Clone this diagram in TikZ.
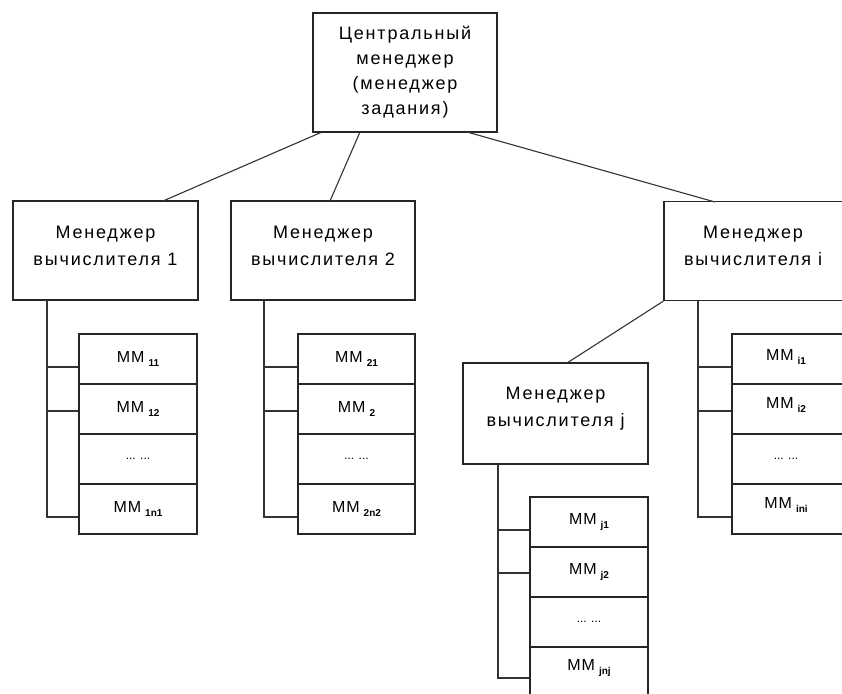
\documentclass[tikz,border=0pt]{standalone}
\usepackage{fontspec}
\setmainfont{Liberation Sans}
\newfontfamily\spacedfont[LetterSpace=10]{Liberation Sans}
\begin{document}
\begin{tikzpicture}[x=1pt,y=-1pt,
  box/.style={draw=black!85, line width=1.2pt, minimum width=185pt, minimum height=99pt, inner sep=0pt},
  mmbox/.style={draw=black!85, line width=1.2pt, minimum width=118pt, minimum height=50pt, inner sep=0pt, font=\fontsize{16}{18}\selectfont},
  conn/.style={draw=black!80, line width=1.1pt},
  lbl/.style={font=\spacedfont\fontsize{18}{25}\selectfont, align=center, inner sep=0pt}
]
\newcommand{\mmsub}[1]{M\kern1pt M\kern4pt\raisebox{-4pt}{\fontsize{10}{10}\selectfont\bfseries #1}}
\useasboundingbox (0,0) rectangle (842,693);
\clip (0,0) rectangle (842,693);
\fill[white] (0,0) rectangle (842,693);

% central
\node[box, minimum width=184pt, minimum height=119pt] (c) at (405,72.5) {};
\node[lbl] (ct) at (405,72) {Центральный\\менеджер\\(менеджер\\задания)};

% managers
\node[box] (m1) at (105.5,250.5) {};
\node[lbl, font=\spacedfont\fontsize{18}{27}\selectfont] (m1t) at (m1.center) [yshift=5pt] {Менеджер\\вычислителя 1};
\node[box, minimum width=184pt] (m2) at (323,250.5) {};
\node[lbl, font=\spacedfont\fontsize{18}{27}\selectfont] (m2t) at (m2.center) [yshift=5pt] {Менеджер\\вычислителя 2};
\node[box, minimum width=190pt] (mi) at (759,251) {};
\node[lbl, font=\spacedfont\fontsize{18}{27}\selectfont] (mit) at (753,245.5) {Менеджер\\вычислителя i};
\node[box, minimum height=101pt] (mj) at (555.5,413.5) {};
\node[lbl, font=\spacedfont\fontsize{18}{27}\selectfont] (mjt) at (mj.center) [yshift=5pt] {Менеджер\\вычислителя j};

% connectors from central
\coordinate (c1) at (322,132);
\coordinate (c2) at (360,132);
\coordinate (c3) at (467,132);
\draw[conn] (c1) -- (163,201);
\draw[conn] (c2) -- (330,201);
\draw[conn] (c3) -- (715,202);
\draw[conn] (mi.south west) -- (567,363);

% group 1
\node[mmbox] (a1) at (138,359) {\mmsub{11}};
\node[mmbox] (a2) at (138,409) {\mmsub{12}};
\node[mmbox] (a3) at (138,459) {\fontsize{12}{12}\selectfont ... ...};
\node[mmbox] (a4) at (138,509) {\mmsub{1n1}};
\draw[conn] (47,300) -- (47,517) -- (a4.west |- 0,517);
\draw[conn] (47,367) -- (a1.west |- 0,367);
\draw[conn] (47,411) -- (a2.west |- 0,411);

% group 2
\node[mmbox, minimum width=117pt] (b1) at (356.5,359) {\mmsub{21}};
\node[mmbox, minimum width=117pt] (b2) at (356.5,409) {\mmsub{2}};
\node[mmbox, minimum width=117pt] (b3) at (356.5,459) {\fontsize{12}{12}\selectfont ... ...};
\node[mmbox, minimum width=117pt] (b4) at (356.5,509) {\mmsub{2n2}};
\draw[conn] (264,300) -- (264,517) -- (b4.west |- 0,517);
\draw[conn] (264,367) -- (b1.west |- 0,367);
\draw[conn] (264,411) -- (b2.west |- 0,411);

% group i
\node[mmbox] (i1) at (791,359) {};
\node[mmbox] (i2) at (791,409) {};
\node[mmbox] (i3) at (791,459) {};
\node[mmbox] (i4) at (791,509) {};
\node[font=\fontsize{16}{18}\selectfont, inner sep=0pt] (i1t) at (786,357) {\mmsub{i1}};
\node[font=\fontsize{16}{18}\selectfont, inner sep=0pt] (i2t) at (786,405) {\mmsub{i2}};
\node[inner sep=0pt] (i3t) at (786,459) {\fontsize{12}{12}\selectfont ... ...};
\node[font=\fontsize{16}{18}\selectfont, inner sep=0pt] (i4t) at (786,505) {\mmsub{ini}};
\draw[conn] (698,300) -- (698,517) -- (i4.west |- 0,517);
\draw[conn] (698,367) -- (i1.west |- 0,367);
\draw[conn] (698,411) -- (i2.west |- 0,411);

% group j
\node[mmbox] (j1) at (589,522) {\mmsub{j1}};
\node[mmbox] (j2) at (589,572) {\mmsub{j2}};
\node[mmbox] (j3) at (589,622) {\fontsize{12}{12}\selectfont ... ...};
\node[mmbox] (j4) at (589,672) {};
\node[font=\fontsize{16}{18}\selectfont, inner sep=0pt] (j4t) at (589,668) {\mmsub{jnj}};
\draw[conn] (498,464) -- (498,678) -- (j4.west |- 0,678);
\draw[conn] (498,530) -- (j1.west |- 0,530);
\draw[conn] (498,573) -- (j2.west |- 0,573);
\end{tikzpicture}
\end{document}
